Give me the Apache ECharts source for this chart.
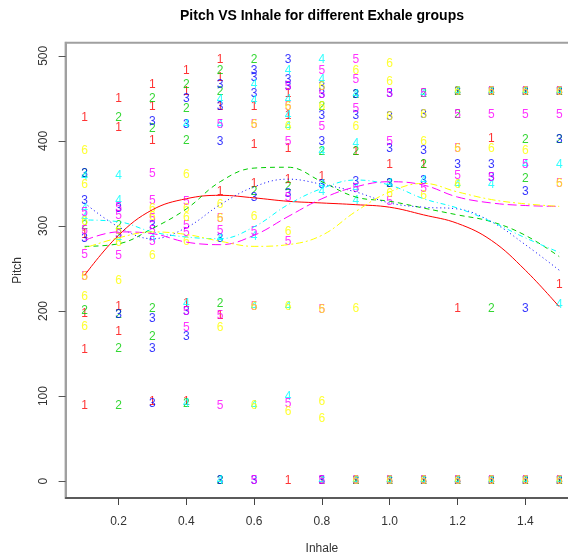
<!DOCTYPE html>
<html lang="en">
<head>
<meta charset="UTF-8" />
<script src="https://cdn.jsdelivr.net/npm/echarts@6/dist/echarts.min.js"></script>
<style>
body{margin:0;background:#fff}
#main{width:568px;height:554px}
</style>
</head>
<body>
<div id="main"></div>
<script type="text/javascript">
// tick labels
var inhaleTicks = [0.2, 0.4, 0.6, 0.8, 1.0, 1.2, 1.4];
var pitchTicks = [0, 100, 200, 300, 400, 500];

// points [inhale, pitch] for each exhale group
var g1 = [[0.1,427],[0.1,290],[0.1,197],[0.1,155],[0.1,89],
	[0.2,449],[0.2,416],[0.2,205],[0.2,176],
	[0.3,466],[0.3,440],[0.3,400],[0.3,93],
	[0.4,483],[0.4,458],[0.4,209],[0.4,94],
	[0.5,495],[0.5,474],[0.5,440],[0.5,340],[0.5,195],
	[0.6,440],[0.6,395],[0.6,350],
	[0.7,456],[0.7,430],[0.7,391],[0.7,354],[0.7,0],
	[0.8,358],[0.8,0],[0.9,387],[0.9,0],[1.0,372],[1.0,0],[1.1,372],[1.1,0],
	[1.2,458],[1.2,203],[1.2,0],[1.3,458],[1.3,403],[1.3,0],
	[1.4,458],[1.4,0],[1.5,458],[1.5,231],[1.5,0]];
var g2 = [[0.1,362],[0.1,300],[0.1,200],
	[0.2,427],[0.2,300],[0.2,196],[0.2,156],[0.2,89],
	[0.3,449],[0.3,414],[0.3,203],[0.3,170],
	[0.4,466],[0.4,438],[0.4,400],[0.4,91],
	[0.5,483],[0.5,458],[0.5,209],[0.5,0],
	[0.6,495],[0.6,340],[0.7,346],[0.8,440],[0.8,387],
	[0.9,454],[0.9,387],[0.9,0],[1.0,350],[1.0,0],
	[1.1,456],[1.1,372],[1.1,0],[1.2,458],[1.2,431],[1.2,0],
	[1.3,458],[1.3,203],[1.3,0],[1.4,458],[1.4,401],[1.4,356],[1.4,0],
	[1.5,458],[1.5,401],[1.5,0]];
var g3 = [[0.1,362],[0.1,330],[0.1,285],
	[0.2,320],[0.2,290],[0.2,196],
	[0.3,422],[0.3,300],[0.3,191],[0.3,156],[0.3,91],
	[0.4,449],[0.4,419],[0.4,199],[0.4,170],
	[0.5,466],[0.5,440],[0.5,399],[0.5,285],[0.5,0],
	[0.6,483],[0.6,474],[0.6,456],[0.6,333],[0.6,0],
	[0.7,495],[0.7,472],[0.7,464],[0.7,338],
	[0.8,464],[0.8,454],[0.8,430],[0.8,399],[0.8,348],[0.8,0],
	[0.9,454],[0.9,430],[0.9,352],[0.9,0],
	[1.0,456],[1.0,428],[1.0,391],[1.0,350],[1.0,0],
	[1.1,431],[1.1,389],[1.1,353],[1.1,0],
	[1.2,458],[1.2,372],[1.2,0],[1.3,458],[1.3,372],[1.3,357],[1.3,0],
	[1.4,458],[1.4,340],[1.4,203],[1.4,0],[1.5,458],[1.5,401],[1.5,0]];
var g4 = [[0.1,358],[0.1,320],[0.1,310],
	[0.2,359],[0.2,330],[0.2,285],[0.3,285],
	[0.4,419],[0.4,209],[0.4,91],
	[0.5,448],[0.5,419],[0.5,285],[0.5,0],
	[0.6,466],[0.6,447],[0.6,287],[0.6,205],[0.6,89],
	[0.7,482],[0.7,448],[0.7,430],[0.7,417],[0.7,205],[0.7,99],
	[0.8,495],[0.8,472],[0.8,387],[0.8,348],[0.8,340],[0.8,0],
	[0.9,454],[0.9,397],[0.9,344],[0.9,330],[0.9,0],
	[1.0,350],[1.0,0],[1.1,456],[1.1,353],[1.1,0],
	[1.2,458],[1.2,348],[1.2,0],[1.3,458],[1.3,348],[1.3,0],
	[1.4,458],[1.4,372],[1.4,0],[1.5,458],[1.5,372],[1.5,207],[1.5,0]];
var g5 = [[0.1,315],[0.1,295],[0.1,266],[0.1,240],
	[0.2,321],[0.2,312],[0.2,290],[0.2,265],
	[0.3,361],[0.3,330],[0.3,309],[0.3,295],[0.3,281],
	[0.4,328],[0.4,300],[0.4,292],[0.4,199],[0.4,180],
	[0.5,419],[0.5,309],[0.5,295],[0.5,195],[0.5,89],
	[0.6,419],[0.6,293],[0.6,205],[0.6,0],
	[0.7,464],[0.7,440],[0.7,399],[0.7,333],[0.7,281],[0.7,91],
	[0.8,482],[0.8,454],[0.8,417],[0.8,201],[0.8,0],
	[0.9,495],[0.9,472],[0.9,438],[0.9,344],[0.9,0],
	[1.0,456],[1.0,399],[1.0,328],[1.0,0],[1.1,456],[1.1,344],[1.1,0],
	[1.2,431],[1.2,391],[1.2,359],[1.2,0],[1.3,458],[1.3,431],[1.3,357],[1.3,0],
	[1.4,458],[1.4,431],[1.4,372],[1.4,0],[1.5,458],[1.5,431],[1.5,350],[1.5,0]];
var g6 = [[0.1,388],[0.1,348],[0.1,305],[0.1,240],[0.1,217],[0.1,182],
	[0.2,295],[0.2,280],[0.2,236],
	[0.3,320],[0.3,311],[0.3,265],
	[0.4,360],[0.4,320],[0.4,310],[0.4,281],
	[0.5,325],[0.5,309],[0.5,180],
	[0.6,419],[0.6,311],[0.6,205],[0.6,89],
	[0.7,440],[0.7,417],[0.7,293],[0.7,205],[0.7,82],
	[0.8,464],[0.8,440],[0.8,201],[0.8,93],[0.8,73],
	[0.9,483],[0.9,417],[0.9,203],[0.9,0],
	[1.0,491],[1.0,470],[1.0,428],[1.0,338],[1.0,0],
	[1.1,431],[1.1,399],[1.1,336],[1.1,0],[1.2,458],[1.2,391],[1.2,348],[1.2,0],
	[1.3,458],[1.3,391],[1.3,0],[1.4,458],[1.4,388],[1.4,0],[1.5,458],[1.5,350],[1.5,0]];

// smooth fit lines
var curveX = [0.1,0.2,0.3,0.4,0.5,0.6,0.7,0.8,0.9,1.0,1.1,1.2,1.3,1.4,1.5];
var fit1 = [242,289,319,332,336,333,329,327,325,322,313,303,283,248,205];
var fit2 = [276,279,297,320,352,368,369,352,334,329,321,313,305,289,264];
var fit3 = [327,299,285,298,325,346,355,349,340,327,322,320,305,278,248];
var fit4 = [307,305,293,287,285,299,325,344,354,348,332,321,305,286,269];
var fit5 = [283,293,291,281,278,289,311,332,346,352,348,334,327,324,323];
var fit6 = [274,286,293,290,282,276,278,289,317,340,350,340,331,326,323];

var groups = [g1, g2, g3, g4, g5, g6];
var fits = [fit1, fit2, fit3, fit4, fit5, fit6];
var colors = ['#ff0000', '#00cd00', '#0000ff', '#00ffff', '#ff00ff', '#ffff00'];
var dashes = ['solid', [5,4], [1,3], [1,3,5,3], [9,4], [2,3,7,3]];

var series = [];
for (var i = 0; i < groups.length; i++) {
	(function(k){
		series.push({
			type: 'scatter',
			data: groups[k],
			symbolSize: 1,
			itemStyle: {color: 'rgba(0,0,0,0)'},
			label: {
				show: true,
				position: 'inside',
				formatter: function(){ return String(k + 1); },
				color: colors[k],
				fontSize: 12,
				fontFamily: 'Liberation Sans'
			},
			silent: true
		});
	})(i);
}
for (var i = 0; i < fits.length; i++) {
	var d = [];
	for (var j = 0; j < curveX.length; j++) d.push([curveX[j], fits[i][j]]);
	series.push({
		type: 'line',
		data: d,
		smooth: 0.4,
		showSymbol: false,
		lineStyle: {color: colors[i], width: 1, type: dashes[i]},
		silent: true
	});
}

var myChart = echarts.init(document.getElementById('main'));
myChart.setOption({
	animation: false,
	backgroundColor: '#fff',
	graphic: [{
		type: 'text', x: 322, y: 16,
		style: {text: 'Pitch VS Inhale for different Exhale groups', font: 'bold 14px Liberation Sans',
			fill: '#000', align: 'center', verticalAlign: 'middle'}
	}],
	grid: {left: 65.6, top: 42.7, width: 512.6, height: 455.3, show: true,
		outerBoundsMode: 'none', containLabel: false,
		borderColor: '#a0a0a0', borderWidth: 2, backgroundColor: 'transparent'},
	xAxis: {
		type: 'value', min: 0.044, max: 1.556,
		name: 'Inhale', nameLocation: 'middle', nameGap: 45,
		nameTextStyle: {fontSize: 12, color: '#333', fontFamily: 'Liberation Sans'},
		axisLine: {show: true, onZero: false, lineStyle: {color: '#444', width: 1.5}},
		axisTick: {show: true, length: 7, customValues: inhaleTicks, lineStyle: {color: '#444'}},
		axisLabel: {customValues: inhaleTicks, margin: 18, fontSize: 12, color: '#333',
			fontFamily: 'Liberation Sans', formatter: function(v){ return v.toFixed(1); }},
		splitLine: {show: false}
	},
	yAxis: {
		type: 'value', min: -19.8, max: 515.4,
		name: 'Pitch', nameLocation: 'middle', nameGap: 42,
		nameTextStyle: {fontSize: 12, color: '#333', fontFamily: 'Liberation Sans'},
		axisLine: {show: true, onZero: false, lineStyle: {color: '#a0a0a0', width: 2}},
		axisTick: {show: true, length: 7, customValues: pitchTicks, lineStyle: {color: '#555'}},
		axisLabel: {customValues: pitchTicks, rotate: 90, margin: 16, fontSize: 12, color: '#333',
			fontFamily: 'Liberation Sans'},
		splitLine: {show: false}
	},
	series: series
});
</script>
</body>
</html>
